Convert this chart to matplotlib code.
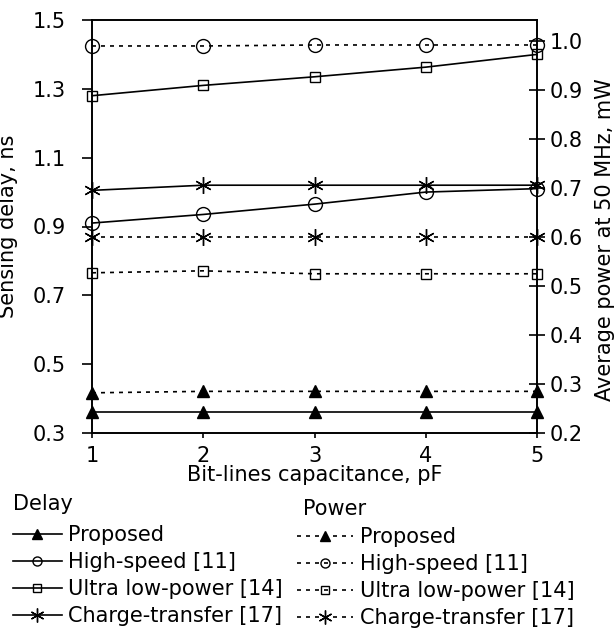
import matplotlib
matplotlib.use("Agg")
import matplotlib.pyplot as plt
from matplotlib.lines import Line2D

plt.rcParams['font.family'] = ['DejaVu Sans']

capacitance = [1, 2, 3, 4, 5]
series_names = ["Proposed", "High-speed [11]", "Ultra low-power [14]", "Charge-transfer [17]"]

delay_proposed = [0.36, 0.36, 0.36, 0.36, 0.36]
delay_highspeed = [0.91, 0.935, 0.965, 1.0, 1.01]
delay_ultralow = [1.28, 1.31, 1.335, 1.363, 1.40]
delay_charge = [1.005, 1.02, 1.02, 1.02, 1.02]

power_proposed = [0.282, 0.285, 0.285, 0.285, 0.285]
power_highspeed = [0.99, 0.99, 0.992, 0.992, 0.992]
power_ultralow = [0.527, 0.531, 0.525, 0.525, 0.525]
power_charge = [0.60, 0.60, 0.60, 0.60, 0.60]

left_ticks = [0.3, 0.5, 0.7, 0.9, 1.1, 1.3, 1.5]
right_ticks = [0.2, 0.3, 0.4, 0.5, 0.6, 0.7, 0.8, 0.9, 1.0]

fig = plt.figure(figsize=(6.14, 6.29), dpi=100)
ax = fig.add_axes([92/614, 1-433/629, (537-92)/614, (433-20)/629])
ax2 = ax.twinx()

asterisk = (6, 2, 0)
markers = ['^', 'o', 's', asterisk]
msizes = [8.5, 10, 7.5, 12]
leg_msizes = [7.5, 6.5, 5.5, 10]
fills = ['k', 'none', 'none', 'k']
dot = (0, (2.4, 3.0))

delays = [delay_proposed, delay_highspeed, delay_ultralow, delay_charge]
powers = [power_proposed, power_highspeed, power_ultralow, power_charge]

for d, m, ms, fc in zip(delays, markers, msizes, fills):
    ax.plot(capacitance, d, color='k', lw=1.2, marker=m, ms=ms,
            mfc=fc, mec='k', mew=1.0, clip_on=False, zorder=3)
for p, m, ms, fc in zip(powers, markers, msizes, fills):
    ax2.plot(capacitance, p, color='k', lw=1.2, ls=dot, marker=m, ms=ms,
             mfc=fc, mec='k', mew=1.0, clip_on=False, zorder=3)

ax.set_xlim(1, 5)
ax.set_ylim(0.3, 1.5)
ax2.set_ylim(0.2, 1.043)
ax.set_xticks(capacitance)
ax.set_xticklabels([str(c) for c in capacitance])
ax.set_yticks(left_ticks)
ax.set_yticklabels([f"{t:.1f}" for t in left_ticks])
ax2.set_yticks(right_ticks)
ax2.set_yticklabels([f"{t:.1f}" for t in right_ticks])

fs = 15
for a in (ax, ax2):
    for s in a.spines.values():
        s.set_linewidth(1.2)
ax.tick_params(axis='y', direction='out', length=7, width=1.2, pad=12, labelsize=fs)
ax.tick_params(axis='x', direction='out', length=3.6, width=1.2, pad=6, labelsize=fs)
ax2.tick_params(axis='y', direction='inout', length=11.5, width=1.2, pad=3.6, labelsize=fs)

ax.set_xlabel("Bit-lines capacitance, pF", fontsize=fs, labelpad=-1)
ax.set_ylabel("Sensing delay, ns", fontsize=fs, labelpad=10)
ax2.set_ylabel("Average power at 50 MHz, mW", fontsize=fs, labelpad=7)
ax2.yaxis.set_label_coords(1.13, 1 - 220/413)

# Legend titles
fig.text(13/614, 1-510/629, "Delay", fontsize=fs, ha='left', va='baseline')
fig.text(303/614, 1-515/629, "Power", fontsize=fs, ha='left', va='baseline')

# Legends
delay_handles = [Line2D([], [], color='k', lw=1.2, marker=m, ms=ms, mfc=fc, mec='k')
                 for m, ms, fc in zip(markers, leg_msizes, fills)]
power_handles = [Line2D([], [], color='k', lw=1.2, ls=dot, marker=m, ms=ms, mfc=fc, mec='k')
                 for m, ms, fc in zip(markers, leg_msizes, fills)]

leg1 = fig.legend(delay_handles, series_names, loc='upper left',
                  bbox_to_anchor=(13/614, 1-525/629), frameon=False, fontsize=fs,
                  handlelength=2.35, handletextpad=0.3, labelspacing=0.34,
                  borderpad=0, borderaxespad=0)
leg2 = fig.legend(power_handles, series_names, loc='upper left',
                  bbox_to_anchor=(297/614, 1-527/629), frameon=False, fontsize=fs,
                  handlelength=2.7, handletextpad=0.3, labelspacing=0.34,
                  borderpad=0, borderaxespad=0)

fig.savefig("out.png", dpi=100)
